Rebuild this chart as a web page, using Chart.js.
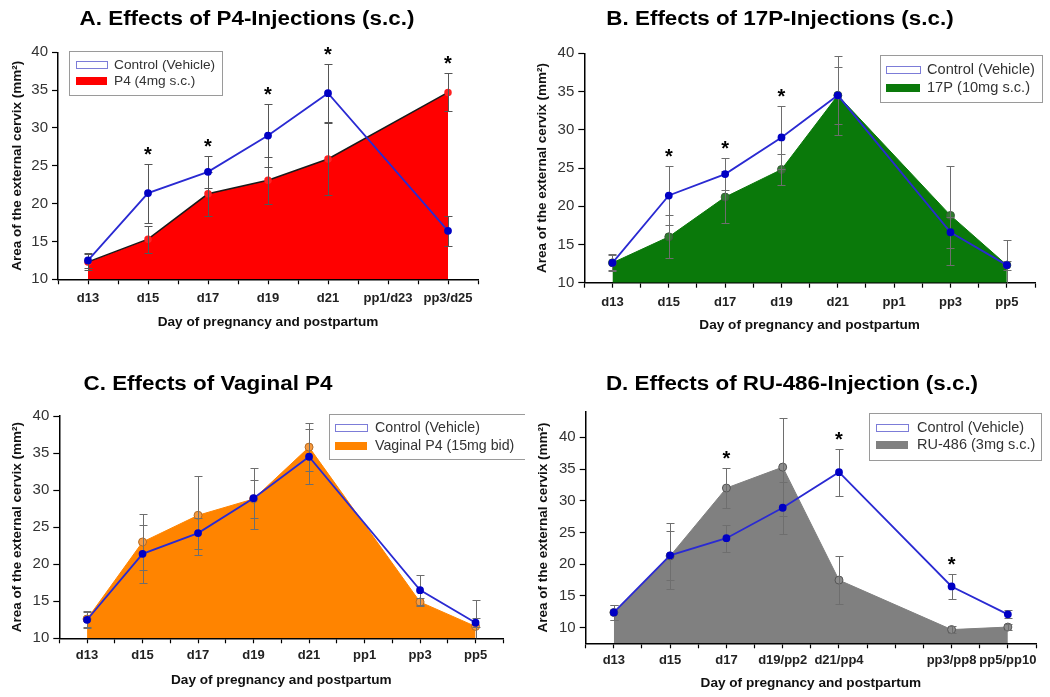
<!DOCTYPE html>
<html>
<head>
<meta charset="utf-8">
<script src="https://cdn.jsdelivr.net/npm/chart.js@4/dist/chart.umd.min.js"></script>
<style>
body { margin: 0; background: #fff; width: 1050px; height: 697px; position: relative; overflow: hidden; font-family: "Liberation Sans", Arial, sans-serif; }
canvas { position: absolute; }
.ttl { position: absolute; font-weight: bold; font-size: 20px; white-space: nowrap; color: #000; transform: translate(-50%, -50%) scaleX(1.12); }
</style>
</head>
<body>
<canvas id="cA" width="525" height="348" style="left:0;top:0"></canvas>
<canvas id="cB" width="525" height="348" style="left:525px;top:0"></canvas>
<canvas id="cC" width="525" height="349" style="left:0;top:348px"></canvas>
<canvas id="cD" width="525" height="349" style="left:525px;top:348px"></canvas>
<div class="ttl" style="left:247px;top:18px">A. Effects of P4-Injections (s.c.)</div>
<div class="ttl" style="left:780px;top:18px">B. Effects of 17P-Injections (s.c.)</div>
<div class="ttl" style="left:208px;top:383px">C. Effects of Vaginal P4</div>
<div class="ttl" style="left:792px;top:383px">D. Effects of RU-486-Injection (s.c.)</div>
<script>
// x categories (empty slot = day with no measurement)
const daysA = ['d13', 'd15', 'd17', 'd19', 'd21', 'pp1/d23', 'pp3/d25'];
const daysBC = ['d13', 'd15', 'd17', 'd19', 'd21', 'pp1', 'pp3', 'pp5'];
const daysD = ['d13', 'd15', 'd17', 'd19/pp2', 'd21/pp4', '', 'pp3/pp8', 'pp5/pp10'];
const yTicks = [10, 15, 20, 25, 30, 35, 40];

// A. P4 injections
const ctrlA = [12.5, 21.4, 24.2, 29.0, 34.6, null, 16.4];
const ctrlAErr = [1.0, 3.9, 2.1, 4.2, 3.8, null, 2.0];
const p4A = [12.3, 15.3, 21.3, 23.1, 25.9, null, 34.7];
const p4AErr = [1.1, 1.8, 2.9, 3.1, 4.7, null, 2.5];
const sigA = [0, 1, 1, 1, 1, 0, 1];

// B. 17P injections
const ctrlB = [12.6, 21.4, 24.2, 29.0, 34.5, null, 16.6, 12.3];
const ctrlBErr = [1.1, 3.9, 2.1, 4.1, 3.7, null, 2.0, 0.6];
const p17B = [12.6, 16.0, 21.2, 24.8, 34.5, null, 18.8, 12.3];
const p17BErr = [1.0, 2.8, 3.4, 2.0, 5.2, null, 6.5, 3.3];
const sigB = [0, 1, 1, 1, 0, 0, 0, 0];

// C. vaginal P4
const ctrlC = [12.5, 21.4, 24.2, 28.9, 34.5, null, 16.5, 12.1];
const ctrlCErr = [1.1, 3.9, 2.1, 4.1, 3.7, null, 2.0, 0.6];
const vagC = [12.6, 23.0, 26.6, 28.8, 35.8, null, 14.9, 11.6];
const vagCErr = [1.1, 3.8, 5.3, 2.5, 3.2, null, 0.6, 3.6];
const sigC = [0, 0, 0, 0, 0, 0, 0, 0];

// D. RU-486
const ctrlD = [12.4, 21.4, 24.1, 28.9, 34.5, null, 16.5, 12.1];
const ctrlDErr = [1.2, 3.85, 2.1, 4.1, 3.7, null, 2.0, 0.65];
const ruD = [12.4, 21.3, 32.0, 35.3, 17.5, null, 9.7, 10.1];
const ruDErr = [1.2, 5.25, 3.15, 7.7, 3.75, null, 0.6, 0.5];
const sigD = [0, 0, 1, 0, 1, 0, 1, 0];

Chart.defaults.font.family = '"Liberation Sans", Arial, sans-serif';

function pts(vals, errs) {
    const out = [];
    vals.forEach((v, i) => { if (v !== null) out.push({ x: i, y: v, e: errs[i] }); });
    return out;
}

// error bars go on top of the filled series but under the control line
const errorBars = {
    id: 'errorBars',
    afterDatasetDraw(chart, args, o) {
        if (args.index !== 1) return;
        const { ctx, chartArea, scales: { x, y } } = chart;
        ctx.save();
        ctx.beginPath();
        ctx.rect(chartArea.left, chartArea.top - 20, chartArea.width, chartArea.height + 20);
        ctx.clip();
        ctx.strokeStyle = o.color;
        ctx.lineWidth = 1;
        chart.data.datasets.forEach(ds => {
            ds.data.forEach(p => {
                const px = Math.round(x.getPixelForValue(p.x)) + 0.5;
                const top = Math.round(y.getPixelForValue(p.y + p.e)) + 0.5;
                const bot = Math.round(y.getPixelForValue(p.y - p.e)) + 0.5;
                ctx.beginPath();
                ctx.moveTo(px, top); ctx.lineTo(px, bot);
                ctx.moveTo(px - 4, top); ctx.lineTo(px + 4, top);
                ctx.moveTo(px - 4, bot); ctx.lineTo(px + 4, bot);
                ctx.stroke();
            });
        });
        ctx.restore();
    },
    afterDatasetsDraw(chart, args, o) {
        const { ctx, scales: { x, y } } = chart;
        ctx.save();
        ctx.font = 'bold 20px "Liberation Sans", Arial';
        ctx.textAlign = 'center';
        ctx.fillStyle = '#000';
        o.sig.forEach((s, i) => {
            if (!s) return;
            let hi = -Infinity;
            chart.data.datasets.forEach(ds => ds.data.forEach(p => { if (p.x === i) hi = Math.max(hi, p.y + p.e); }));
            ctx.fillText('*', x.getPixelForValue(i), y.getPixelForValue(hi) - 3);
        });
        ctx.restore();
    }
};

const boxLegend = {
    id: 'boxLegend',
    afterDraw(chart, args, o) {
        const ctx = chart.ctx;
        ctx.save();
        ctx.strokeStyle = '#9a9a9a';
        ctx.lineWidth = 1;
        ctx.strokeRect(o.x + 0.5, o.y + 0.5, o.w, o.h);
        ctx.font = o.size + 'px "Liberation Sans", Arial';
        ctx.textBaseline = 'middle';
        chart.data.datasets.forEach((ds, i) => {
            const yy = o.rows[i];
            if (ds.fill) {
                ctx.fillStyle = ds.backgroundColor;
                ctx.fillRect(o.sx, yy - 4, o.sw, 8);
            } else {
                ctx.strokeStyle = '#7c7cd8';
                ctx.strokeRect(o.sx + 0.5, Math.round(yy - 4) + 0.5, o.sw, 7);
            }
            ctx.fillStyle = '#333';
            ctx.fillText(ds.label, o.tx, yy);
        });
        ctx.restore();
    }
};

function makePanel(id, p) {
    const cv = document.getElementById(id);
    const W = cv.width, H = cv.height, a = p.area;
    new Chart(cv, {
        type: 'line',
        data: {
            datasets: [{
                label: 'Control (Vehicle)',
                data: pts(p.ctrl, p.ctrlErr),
                borderColor: '#2a2ad2',
                borderWidth: 1.8,
                pointRadius: 3,
                pointBackgroundColor: '#0000c4',
                pointBorderColor: '#0000c4',
                fill: false,
                tension: 0
            }, {
                label: p.label,
                data: pts(p.trt, p.trtErr),
                borderColor: p.line,
                borderWidth: p.lineW,
                backgroundColor: p.fill,
                fill: 'start',
                pointRadius: p.ptR,
                pointBackgroundColor: p.ptFill,
                pointBorderColor: p.ptBorder,
                tension: 0
            }]
        },
        options: {
            responsive: false,
            animation: false,
            events: [],
            layout: { padding: { left: 0, top: a.top, right: W - a.right, bottom: 0 } },
            scales: {
                x: {
                    type: 'linear',
                    min: -0.5,
                    max: p.days.length - 0.5,
                    afterBuildTicks: s => {
                        s.ticks = [];
                        for (let v = -0.5; v <= p.days.length - 0.5; v += 0.5) s.ticks.push({ value: v });
                    },
                    afterFit: s => { s.height = H - a.bottom; },
                    ticks: {
                        autoSkip: false,
                        maxRotation: 0,
                        padding: p.xPad,
                        color: '#222',
                        font: { size: 13, weight: 'bold' },
                        callback: v => Number.isInteger(v) ? p.days[v] : ''
                    },
                    grid: { drawOnChartArea: false, tickLength: 5, tickColor: '#000', tickWidth: 1.2 },
                    border: { color: '#000', width: 1.5 },
                    title: {
                        display: true,
                        text: 'Day of pregnancy and postpartum',
                        color: '#111',
                        font: { size: 13.6, weight: 'bold' },
                        padding: { top: 0, bottom: H - p.xTitleY - 8.2 }
                    }
                },
                y: {
                    min: p.yMin,
                    max: p.yMax,
                    afterBuildTicks: s => { s.ticks = yTicks.map(v => ({ value: v })); },
                    afterFit: s => { s.width = a.left; },
                    ticks: { padding: 4, color: '#333', font: { size: 15 } },
                    grid: { drawOnChartArea: false, tickLength: 6, tickColor: '#000', tickWidth: 1.2 },
                    border: { color: '#000', width: 1.5 },
                    title: {
                        display: true,
                        text: 'Area of the external cervix (mm²)',
                        color: '#111',
                        font: { size: 13.5, weight: 'bold' },
                        padding: { top: p.yTitleX - 8.1, bottom: 0 }
                    }
                }
            },
            plugins: {
                legend: { display: false },
                tooltip: { enabled: false },
                errorBars: { color: p.errColor, sig: p.sig },
                boxLegend: p.legend
            }
        },
        plugins: [errorBars, boxLegend]
    });
}

makePanel('cA', {
    days: daysA, ctrl: ctrlA, ctrlErr: ctrlAErr, trt: p4A, trtErr: p4AErr, sig: sigA,
    label: 'P4 (4mg s.c.)', fill: '#ff0000', line: '#1a1a1a', lineW: 1.5,
    ptR: 3, ptFill: '#ff2020', ptBorder: '#ff2020', errColor: '#555',
    area: { left: 58, right: 478, top: 52.3, bottom: 279.3 }, yMin: 10, yMax: 40,
    yTitleX: 17, xTitleY: 322, xPad: 6,
    legend: { x: 69, y: 51, w: 153, h: 44, sx: 76, sw: 31, rows: [65, 81], tx: 114, size: 13.7 }
});

makePanel('cB', {
    days: daysBC, ctrl: ctrlB, ctrlErr: ctrlBErr, trt: p17B, trtErr: p17BErr, sig: sigB,
    label: '17P (10mg s.c.)', fill: '#0a790a', line: '#0a790a', lineW: 1,
    ptR: 4, ptFill: '#2e7d2e', ptBorder: '#3c5a3c', errColor: '#6e6e6e',
    area: { left: 59.3, right: 510, top: 53.3, bottom: 282.7 }, yMin: 10, yMax: 40,
    yTitleX: 17, xTitleY: 325, xPad: 6.5,
    legend: { x: 355, y: 55, w: 162, h: 47, sx: 361, sw: 34, rows: [70, 88], tx: 402, size: 14.6 }
});

makePanel('cC', {
    days: daysBC, ctrl: ctrlC, ctrlErr: ctrlCErr, trt: vagC, trtErr: vagCErr, sig: sigC,
    label: 'Vaginal P4 (15mg bid)', fill: '#ff8400', line: '#ff8400', lineW: 1,
    ptR: 4, ptFill: '#f79a3e', ptBorder: '#b36a22', errColor: '#6e6e6e',
    area: { left: 59.3, right: 503.3, top: 68, bottom: 290.3 }, yMin: 10, yMax: 40,
    yTitleX: 17, xTitleY: 332, xPad: 4,
    legend: { x: 329, y: 66, w: 199, h: 45, sx: 335, sw: 32, rows: [80, 98], tx: 375, size: 14.2 }
});

makePanel('cD', {
    days: daysD, ctrl: ctrlD, ctrlErr: ctrlDErr, trt: ruD, trtErr: ruDErr, sig: sigD,
    label: 'RU-486 (3mg s.c.)', fill: '#808080', line: '#808080', lineW: 1,
    ptR: 4, ptFill: '#8c8c8c', ptBorder: '#555', errColor: '#6e6e6e',
    area: { left: 60.7, right: 511, top: 63.7, bottom: 295.3 }, yMin: 7.54, yMax: 44.03,
    yTitleX: 18, xTitleY: 335, xPad: 4,
    legend: { x: 344, y: 65, w: 172, h: 47, sx: 351, sw: 32, rows: [80, 97], tx: 392, size: 14.5 }
});
</script>
</body>
</html>
